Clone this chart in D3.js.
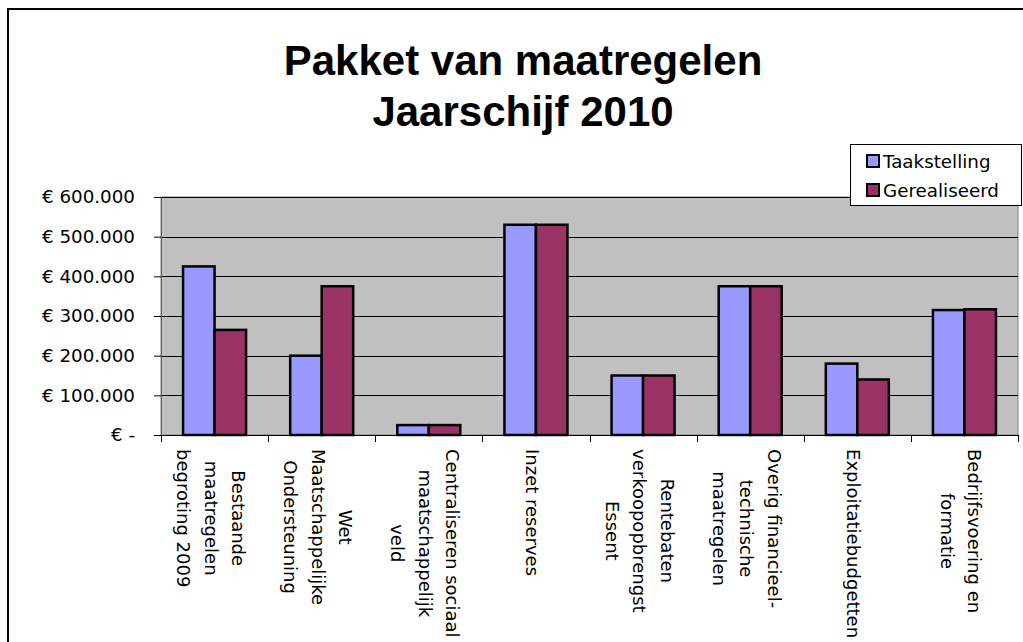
<!DOCTYPE html>
<meta charset="utf-8">
<script src="https://d3js.org/d3.v7.min.js"></script>
<style>
body { margin: 0; background: #fff; }
svg { display: block; }
.title { font-family: "Liberation Sans", Arial, sans-serif; font-weight: bold; font-size: 42px; fill: #000; }
.axis text, .legend text { font-family: "DejaVu Sans", Verdana, sans-serif; font-size: 18.3px; fill: #000; }
.cat text { font-family: "DejaVu Sans", Verdana, sans-serif; font-size: 18px; fill: #000; }
.axis path { display: none; }
.bar { stroke: #000; stroke-width: 2.5px; }
</style>
<body></body>
<script>
// chart data
const categories = [
  ["Bestaande", "maatregelen", "begroting 2009"],
  ["Wet", "Maatschappelijke", "Ondersteuning"],
  ["Centraliseren sociaal", "maatschappelijk", "veld"],
  ["Inzet reserves"],
  ["Rentebaten", "verkoopopbrengst", "Essent"],
  ["Overig financieel-", "technische", "maatregelen"],
  ["Exploitatiebudgetten"],
  ["Bedrijfsvoering en", "formatie"]
];
const seriesNames = ["Taakstelling", "Gerealiseerd"];
const taakstelling = [425000, 200000, 25000, 530000, 150000, 375000, 180000, 315000];
const gerealiseerd = [265000, 375000, 25000, 530000, 150000, 375000, 140000, 317000];
const yTicks = [0, 100000, 200000, 300000, 400000, 500000, 600000];
const colors = ["#9999FF", "#993366"];

const width = 1023, height = 642;
const plot = {left: 161, right: 1018, top: 197, bottom: 435};

const svg = d3.select("body").append("svg")
  .attr("width", width)
  .attr("height", height);

// outer chart border (runs off the picture)
svg.append("rect")
  .attr("x", 8).attr("y", 9)
  .attr("width", 1100).attr("height", 700)
  .attr("fill", "#fff")
  .attr("stroke", "#000")
  .attr("stroke-width", 2);

// title
const title = svg.append("text").attr("class", "title").attr("text-anchor", "middle");
title.append("tspan").attr("x", 523).attr("y", 75).text("Pakket van maatregelen");
title.append("tspan").attr("x", 523).attr("y", 126).text("Jaarschijf 2010");

const x = d3.scaleBand()
  .domain(d3.range(categories.length))
  .range([plot.left, plot.right])
  .padding(0);

const xInner = d3.scaleBand()
  .domain(seriesNames)
  .range([0, x.bandwidth()])
  .paddingInner(0)
  .paddingOuter(0.7);

const y = d3.scaleLinear()
  .domain([0, 600000])
  .range([plot.bottom, plot.top]);

// plot area
svg.append("rect")
  .attr("x", plot.left).attr("y", plot.top)
  .attr("width", plot.right - plot.left)
  .attr("height", plot.bottom - plot.top)
  .attr("fill", "#C0C0C0")
  .attr("stroke", "#808080")
  .attr("stroke-width", 1);

// gridlines
svg.append("g")
  .selectAll("line")
  .data(yTicks.slice(1))
  .join("line")
  .attr("x1", plot.left).attr("x2", plot.right)
  .attr("y1", d => Math.round(y(d)) + 0.5)
  .attr("y2", d => Math.round(y(d)) + 0.5)
  .attr("stroke", "#000")
  .attr("stroke-width", 1);

// y axis
const nl = d3.formatLocale({decimal: ",", thousands: ".", grouping: [3], currency: ["€ ", ""]});
const fmt = nl.format("$,.0f");
const yAxis = d3.axisLeft(y)
  .tickValues(yTicks)
  .tickSize(7)
  .tickPadding(19)
  .tickFormat(d => d === 0 ? "€ -" : fmt(d));
svg.append("g")
  .attr("class", "axis")
  .attr("transform", "translate(" + plot.left + ",0)")
  .call(yAxis)
  .call(g => g.selectAll(".tick line").attr("stroke", "#000"));

svg.append("line")
  .attr("x1", plot.left + 0.5).attr("x2", plot.left + 0.5)
  .attr("y1", plot.top).attr("y2", plot.bottom)
  .attr("stroke", "#606060");

// bars
const groups = svg.append("g")
  .selectAll("g")
  .data(categories.map((c, i) => ({i: i, vals: [taakstelling[i], gerealiseerd[i]]})))
  .join("g")
  .attr("transform", d => "translate(" + x(d.i) + ",0)");

groups.selectAll("rect")
  .data(d => d.vals.map((v, k) => ({name: seriesNames[k], value: v, k: k})))
  .join("rect")
  .attr("class", "bar")
  .attr("x", d => xInner(d.name))
  .attr("y", d => y(d.value))
  .attr("width", xInner.bandwidth())
  .attr("height", d => plot.bottom - y(d.value))
  .attr("fill", d => colors[d.k]);

// x axis line + category ticks
svg.append("line")
  .attr("x1", plot.left).attr("x2", plot.right)
  .attr("y1", plot.bottom + 0.5).attr("y2", plot.bottom + 0.5)
  .attr("stroke", "#000");
svg.append("g")
  .selectAll("line")
  .data(d3.range(categories.length + 1))
  .join("line")
  .attr("x1", d => Math.round(plot.left + d * x.step()) + 0.5)
  .attr("x2", d => Math.round(plot.left + d * x.step()) + 0.5)
  .attr("y1", plot.bottom).attr("y2", plot.bottom + 7)
  .attr("stroke", "#000");

// rotated category labels
const pitch = 27.5;
const cat = svg.append("g").attr("class", "cat");
categories.forEach((lines, i) => {
  const cx = x(i) + x.bandwidth() / 2;
  const t = cat.append("text")
    .attr("text-anchor", "middle");
  lines.forEach((ln, j) => {
    t.append("tspan")
      .attr("x", 0)
      .attr("y", 10 - (lines.length - 1) / 2 * pitch + j * pitch)
      .text(ln);
  });
  const maxLen = d3.max(t.selectAll("tspan").nodes(), n => n.getComputedTextLength());
  t.attr("transform", "translate(" + cx + "," + (449 + maxLen / 2) + ") rotate(90)");
});

// legend
const legend = svg.append("g").attr("class", "legend");
legend.append("rect")
  .attr("x", 850.5).attr("y", 144.5)
  .attr("width", 171).attr("height", 61)
  .attr("fill", "#fff")
  .attr("stroke", "#000");
seriesNames.forEach((s, k) => {
  legend.append("rect")
    .attr("x", 867).attr("y", 155 + k * 29)
    .attr("width", 12).attr("height", 12)
    .attr("fill", colors[k])
    .attr("stroke", "#000")
    .attr("stroke-width", 2);
  legend.append("text")
    .attr("x", 883).attr("y", 168 + k * 29)
    .text(s);
});
</script>
